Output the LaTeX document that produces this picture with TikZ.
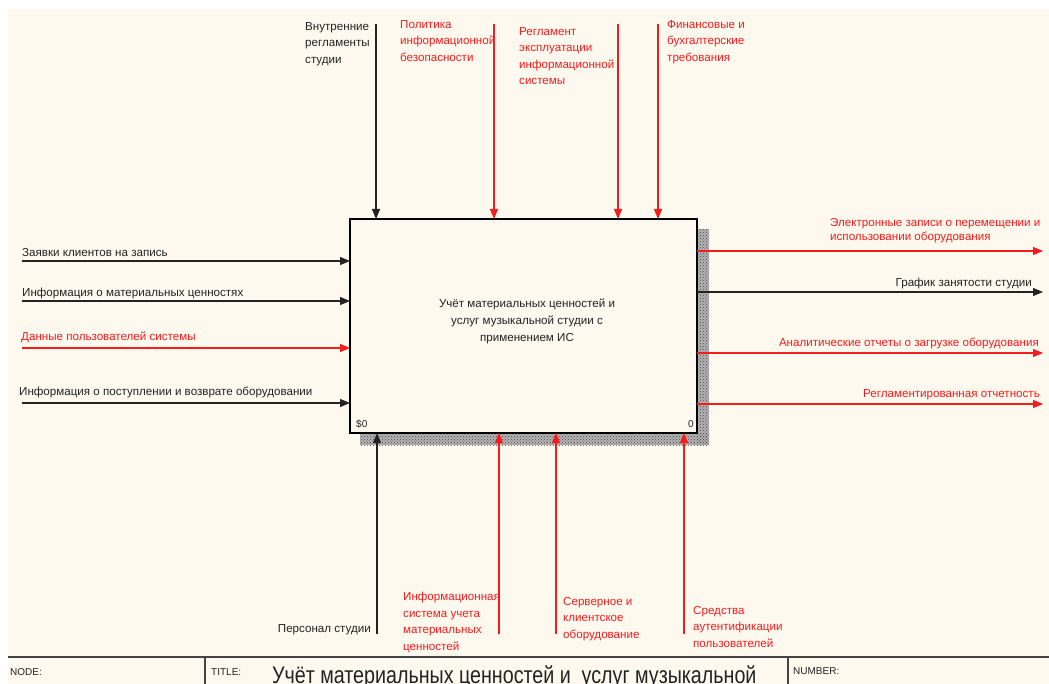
\documentclass[tikz,border=0pt]{standalone}
\usepackage{fontspec}
\usepackage{graphicx}
\setmainfont{Liberation Sans}
\usetikzlibrary{arrows.meta,patterns}

\definecolor{cream}{RGB}{253,249,239}
\definecolor{idefred}{RGB}{245,28,28}
\definecolor{ink}{RGB}{35,35,35}

\begin{document}
\begin{tikzpicture}[x=1pt,y=-1pt,
  lbl/.style={inner sep=0pt, font=\fontsize{11.6}{16.5}\selectfont, align=left, text=ink},
  rlbl/.style={lbl, text=idefred},
  small/.style={inner sep=0pt, font=\fontsize{10}{12}\selectfont, text=ink},
  flow/.style={draw=ink, line width=1.1pt, -{Triangle[length=10pt,width=8pt]}},
  rflow/.style={draw=idefred, line width=1.1pt, -{Triangle[length=10pt,width=8pt]}},
  shadow/.style={fill=gray!60},
  frame/.style={draw=ink!85, line width=1.2pt}
]
\useasboundingbox (0,0) rectangle (1049,684);
\clip (0,0) rectangle (1049,684);
\fill[white] (0,0) rectangle (1049,684);
\fill[cream] (8,9) rectangle (1049,684);

% shadow of the activity box
\fill[shadow] (697,229) rectangle (709,445);
\fill[shadow] (360,433) rectangle (709,445);
\fill[pattern=crosshatch dots, pattern color=black!70] (697,229) rectangle (709,445);
\fill[pattern=crosshatch dots, pattern color=black!70] (360,433) rectangle (709,445);

% activity box
\node[draw=black, line width=2pt, fill=cream, minimum width=347pt, minimum height=214pt,
      inner sep=0pt, outer sep=0pt, anchor=north west] (box) at (350,219) {};
\node[lbl, align=center, font=\fontsize{11.6}{17}\selectfont] (boxtext) at (527,321)
  {Учёт материальных ценностей и\\услуг музыкальной студии с\\применением ИС};
\node[small, anchor=west] (boxid) at (356,424) {\$0};
\node[small, anchor=east] (boxnum) at (694,424) {0};

% controls (top)
\coordinate (c1) at (376,24);
\coordinate (c2) at (494,24);
\coordinate (c3) at (618,24);
\coordinate (c4) at (658,24);
\draw[flow]  (c1) -- (c1 |- box.north);
\draw[rflow] (c2) -- (c2 |- box.north);
\draw[rflow] (c3) -- (c3 |- box.north);
\draw[rflow] (c4) -- (c4 |- box.north);
\node[lbl, anchor=north west] (tl1) at (305,22) {Внутренние\\регламенты\\студии};
\node[rlbl, anchor=north west] (tl2) at (400,20) {Политика\\информационной\\безопасности};
\node[rlbl, anchor=north west] (tl3) at (519,27) {Регламент\\эксплуатации\\информационной\\системы};
\node[rlbl, anchor=north west] (tl4) at (667,20) {Финансовые и\\бухгалтерские\\требования};

% inputs (left)
\coordinate (i1) at (22,261);
\coordinate (i2) at (22,301);
\coordinate (i3) at (22,348);
\coordinate (i4) at (22,403);
\draw[flow]  (i1) -- (i1 -| box.west);
\draw[flow]  (i2) -- (i2 -| box.west);
\draw[rflow] (i3) -- (i3 -| box.west);
\draw[flow]  (i4) -- (i4 -| box.west);
\node[lbl, anchor=base west] (il1) at (22,257) {Заявки клиентов на запись};
\node[lbl, anchor=base west] (il2) at (22,297) {Информация о материальных ценностях};
\node[rlbl, anchor=base west] (il3) at (21,341) {Данные пользователей системы};
\node[lbl, anchor=base west] (il4) at (19,395) {Информация о поступлении и возврате оборудовании};

% outputs (right)
\coordinate (o1) at (1043,251);
\coordinate (o2) at (1043,292);
\coordinate (o3) at (1043,353);
\coordinate (o4) at (1043,404);
\draw[rflow] (o1 -| box.east) -- (o1);
\draw[flow]  (o2 -| box.east) -- (o2);
\draw[rflow] (o3 -| box.east) -- (o3);
\draw[rflow] (o4 -| box.east) -- (o4);
\node[rlbl, anchor=north west, font=\fontsize{11.6}{14.5}\selectfont] (ol1) at (830,218)
  {Электронные записи о перемещении и\\использовании оборудования};
\node[lbl, anchor=base east] (ol2) at (1032,287) {График занятости студии};
\node[rlbl, anchor=base east] (ol3) at (1039,347) {Аналитические отчеты о загрузке оборудования};
\node[rlbl, anchor=base east] (ol4) at (1040,397) {Регламентированная отчетность};

% mechanisms (bottom)
\coordinate (m1) at (377,634);
\coordinate (m2) at (499,634);
\coordinate (m3) at (556,634);
\coordinate (m4) at (684,634);
\draw[flow]  (m1) -- (m1 |- box.south);
\draw[rflow] (m2) -- (m2 |- box.south);
\draw[rflow] (m3) -- (m3 |- box.south);
\draw[rflow] (m4) -- (m4 |- box.south);
\node[lbl, anchor=base east] (ml1) at (371,632) {Персонал студии};
\node[rlbl, anchor=north west] (ml2) at (403,592) {Информационная\\система учета\\материальных\\ценностей};
\node[rlbl, anchor=north west] (ml3) at (563,597) {Серверное и\\клиентское\\оборудование};
\node[rlbl, anchor=north west] (ml4) at (693,606) {Средства\\аутентификации\\пользователей};

% title block
\draw[frame] (8,657) -- (1049,657);
\draw[frame] (205,657) -- (205,684);
\draw[frame] (788,657) -- (788,684);
\node[small, anchor=west] (fnode) at (10,672) {NODE:};
\node[small, anchor=west] (ftitle) at (211,672) {TITLE:};
\node[small, anchor=west] (fnum) at (793,671) {NUMBER:};
\node[inner sep=0pt, anchor=base west, text=ink, font=\fontsize{24}{24}\selectfont] (ttl) at (272,683)
  {\scalebox{0.82}[1]{Учёт материальных ценностей и\ \ услуг музыкальной}};
\end{tikzpicture}
\end{document}
